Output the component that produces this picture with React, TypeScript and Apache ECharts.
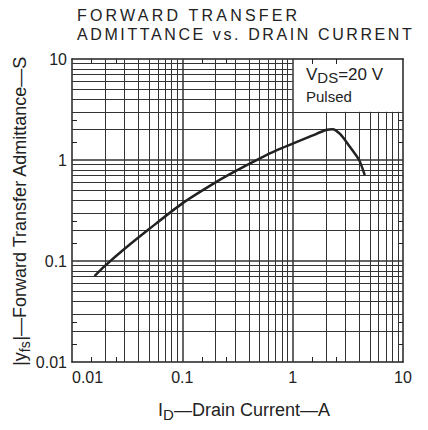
import React, { useEffect, useRef } from "react";
import * as echarts from "echarts";

// ---- data ----
const curveX = [0.016, 0.02, 0.03, 0.05, 0.1, 0.2, 0.3, 0.5, 0.72, 1.0, 1.5, 2.0, 2.3, 2.7, 3.3, 4.0, 4.5];
const curveY = [0.071, 0.09, 0.132, 0.207, 0.372, 0.6, 0.77, 1.03, 1.25, 1.45, 1.74, 1.98, 2.02, 1.8, 1.35, 1.0, 0.71];
const axisMin = 0.01;
const axisMax = 10;
const decades = [0.01, 0.1, 1];
const multipliers = [1, 2, 3, 4, 5, 6, 7, 8, 9];
const minorTickValues = [0.015, 0.025, 0.15, 0.25, 1.5, 2.5];
const tickLabels = [0.01, 0.1, 1, 10];
const boxCornerX = 1; // legend box spans x 1..10
const boxCornerY = 3; // legend box spans y 3..10

const TITLE1 = "FORWARD TRANSFER";
const TITLE2 = "ADMITTANCE vs. DRAIN CURRENT";

const FONT = "'Liberation Sans', Arial, sans-serif";
const INK = "#222";

function buildGrid() {
  const out: any[] = [];
  decades.forEach((d) => {
    multipliers.forEach((m) => {
      const v = +(d * m).toPrecision(3);
      if (v <= axisMin) return;
      const w = m === 1 ? 1.5 : 1;
      out.push({
        coords: v > boxCornerX ? [[v, axisMin], [v, boxCornerY]] : [[v, axisMin], [v, axisMax]],
        lineStyle: { width: w },
      });
      out.push({
        coords: v > boxCornerY ? [[axisMin, v], [boxCornerX, v]] : [[axisMin, v], [axisMax, v]],
        lineStyle: { width: w },
      });
    });
  });
  return out;
}

export default function App() {
  const ref = useRef<HTMLDivElement>(null);
  useEffect(() => {
    if (!ref.current) return;
    const chart = echarts.init(ref.current, undefined, { renderer: "svg" });
    const axisLine = { show: true, lineStyle: { color: INK, width: 1.5 } };
    const tick = {
      show: true,
      inside: true,
      length: 5,
      customValues: minorTickValues,
      lineStyle: { color: INK, width: 1 },
    };
    const fmt = (v: number) => String(+(+v).toPrecision(2));
    const baseX = {
      type: "log",
      logBase: 10,
      min: axisMin,
      max: axisMax,
      axisLine,
      axisTick: tick,
      splitLine: { show: false },
      minorTick: { show: false },
      minorSplitLine: { show: false },
    };
    const option: any = {
      animation: false,
      backgroundColor: "#fff",
      grid: { left: 72, top: 59, width: 331, height: 303 },
      xAxis: [
        {
          ...baseX,
          position: "bottom",
          axisLabel: {
            show: true,
            customValues: tickLabels,
            formatter: fmt,
            fontSize: 16,
            fontFamily: FONT,
            color: INK,
            margin: 7,
            alignMinLabel: "left",
          },
        },
        { ...baseX, position: "top", axisLabel: { show: false } },
      ],
      yAxis: [
        {
          ...baseX,
          position: "left",
          axisLabel: {
            show: true,
            customValues: tickLabels,
            formatter: fmt,
            fontSize: 16,
            fontFamily: FONT,
            color: INK,
            margin: 5,
          },
        },
        { ...baseX, position: "right", axisLabel: { show: false } },
      ],
      series: [
        {
          type: "lines",
          coordinateSystem: "cartesian2d",
          xAxisIndex: 0,
          yAxisIndex: 0,
          silent: true,
          z: 1,
          lineStyle: { color: "#333", width: 1, opacity: 1 },
          data: buildGrid(),
        },
        {
          type: "line",
          xAxisIndex: 0,
          yAxisIndex: 0,
          data: curveX.map((x, i) => [x, curveY[i]]),
          smooth: 0.25,
          symbol: "none",
          lineStyle: { color: INK, width: 2.5 },
          z: 3,
        },
      ],
      graphic: [
        {
          type: "text",
          x: 77,
          y: 15.5,
          style: { text: TITLE1, fontSize: 16, lineHeight: 13, fontFamily: FONT, fill: INK, align: "left", verticalAlign: "middle" },
        },
        {
          type: "text",
          x: 77,
          y: 34,
          style: { text: TITLE2, fontSize: 16, lineHeight: 13, fontFamily: FONT, fill: INK, align: "left", verticalAlign: "middle" },
        },
        {
          type: "text",
          x: 244,
          y: 410,
          style: {
            text: "{n|I}{s|D}{n|—Drain Current—A}",
            align: "center",
            verticalAlign: "middle",
            fill: INK,
            rich: {
              n: { fontSize: 18, fontFamily: FONT, fill: INK, lineHeight: 24, verticalAlign: "middle" },
              s: { fontSize: 15, fontFamily: FONT, fill: INK, lineHeight: 16, verticalAlign: "bottom" },
            },
          },
        },
        {
          type: "text",
          x: 20,
          y: 211,
          rotation: Math.PI / 2,
          style: {
            text: "{n||y}{s|fs}{n||—Forward Transfer Admittance—S}",
            align: "center",
            verticalAlign: "middle",
            fill: INK,
            rich: {
              n: { fontSize: 18, fontFamily: FONT, fill: INK, lineHeight: 24, verticalAlign: "middle" },
              s: { fontSize: 14, fontFamily: FONT, fill: INK, lineHeight: 15, verticalAlign: "bottom" },
            },
          },
        },
        {
          type: "text",
          x: 306,
          y: 74,
          style: {
            text: "{n|V}{s|DS}{n|=20 V}",
            align: "left",
            verticalAlign: "middle",
            fill: INK,
            rich: {
              n: { fontSize: 17, fontFamily: FONT, fill: INK, lineHeight: 22, verticalAlign: "middle" },
              s: { fontSize: 15, fontFamily: FONT, fill: INK, lineHeight: 14, verticalAlign: "bottom" },
            },
          },
        },
        {
          type: "text",
          x: 306,
          y: 96,
          style: { text: "Pulsed", fontSize: 15, fontFamily: FONT, fill: INK, align: "left", verticalAlign: "middle" },
        },
      ],
    };
    chart.setOption(option);
    const spacing = () => {
      const texts = ref.current ? ref.current.querySelectorAll("text") : [];
      texts.forEach((t: any) => {
        if (t.textContent === TITLE1) t.style.letterSpacing = "3.2px";
        if (t.textContent === TITLE2) t.style.letterSpacing = "2.6px";
      });
    };
    spacing();
    chart.on("finished", spacing);
    return () => chart.dispose();
  }, []);
  return (
    <div
      ref={ref}
      style={{ position: "absolute", left: 0, top: 0, width: 428, height: 430, background: "#fff" }}
    />
  );
}
